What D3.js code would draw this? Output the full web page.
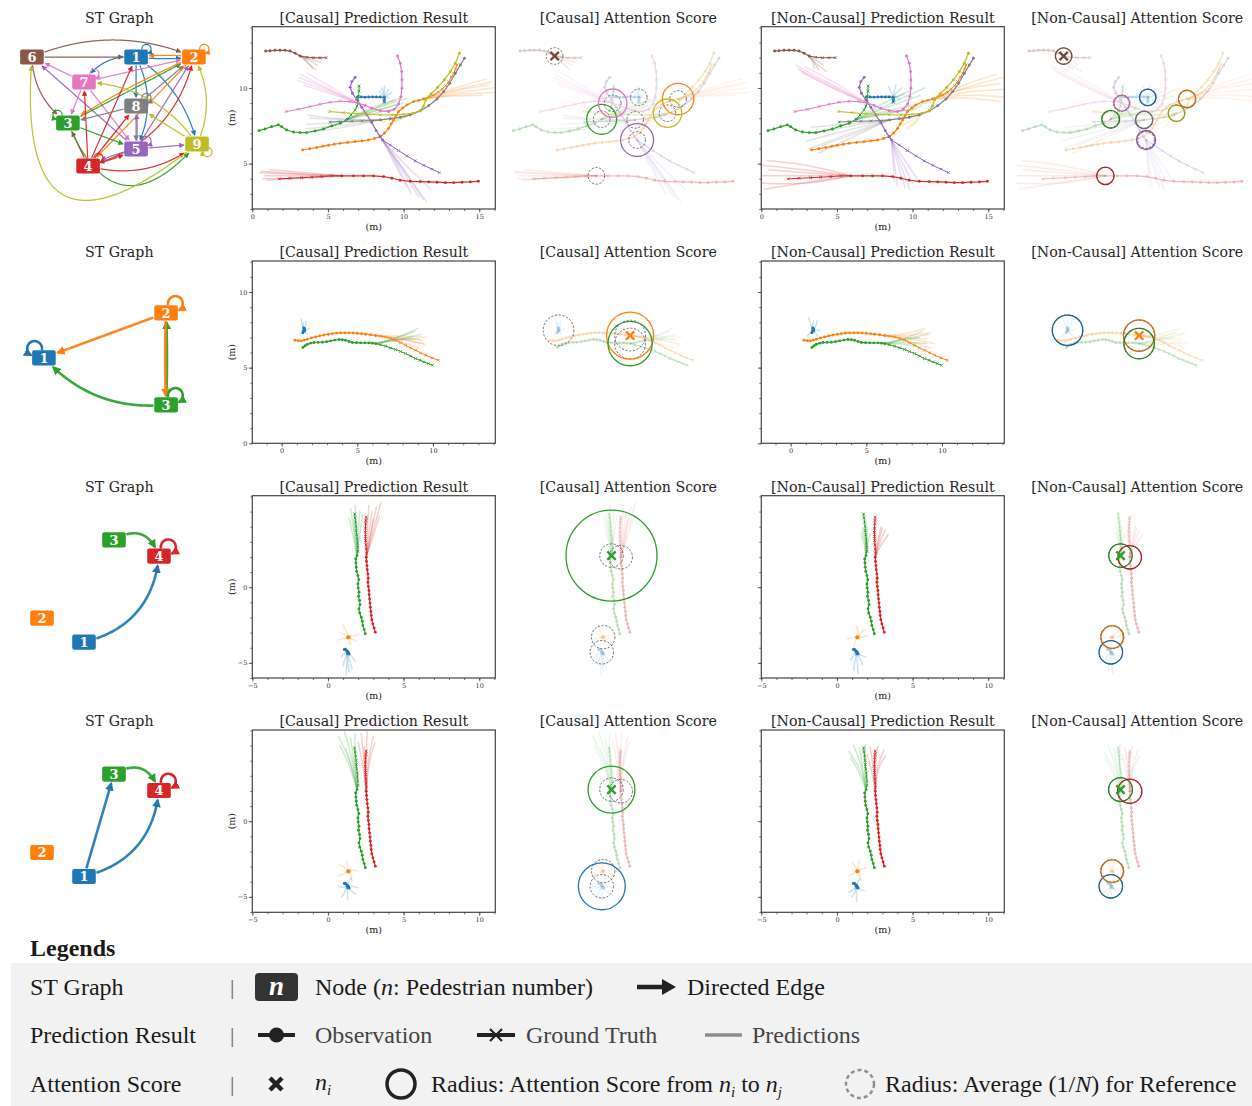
<!DOCTYPE html>
<html><head><meta charset="utf-8">
<script src="https://cdn.jsdelivr.net/npm/d3@7"></script>
<style>
html,body{margin:0;padding:0;background:#fff;}
svg{display:block;}
</style></head>
<body>
<svg id="fig" width="1252" height="1106"></svg>
<script>
// ---------------- text ----------------
const columnTitles = ["ST Graph", "[Causal] Prediction Result", "[Causal] Attention Score",
  "[Non-Causal] Prediction Result", "[Non-Causal] Attention Score"];
const unitLabel = "(m)";

// pedestrian n uses tab10 colour n-1
const pedColors = ["#1f77b4","#ff7f0e","#2ca02c","#d62728","#9467bd","#8c564b","#e377c2","#7f7f7f","#bcbd22"];

// axis start values (metres) and labelled ticks, one entry per row
const rowXStart = [0, -1.94, -5, -5];
const rowYStart = [2.0, 0, -6.0, -6.02];
const rowXTicks = [[0,5,10,15],[0,5,10],[-5,0,5,10],[-5,0,5,10]];
const rowYTicks = [[5,10],[0,5,10],[-5,0],[-5,0]];

// ---------------- row 1: nine pedestrians ----------------
const crowdPeds = [1,2,3,4,5,6,7,8,9];
const crowdObs = [
  [[6.95,9.40],[7.20,9.40],[7.45,9.39],[7.70,9.40],[7.95,9.41],[8.20,9.40],[8.45,9.40],[8.72,9.38]],
  [[3.33,5.90],[3.80,5.98],[4.26,6.06],[4.65,6.14],[5.03,6.21],[5.42,6.28],[5.81,6.34],[6.30,6.40],[6.80,6.45],[7.25,6.50],[7.68,6.56],[8.07,6.66],[8.45,6.78],[8.75,7.02],[9.01,7.33],[9.18,7.62],[9.34,7.89],[9.50,8.17],[9.67,8.44],[9.95,8.68],[10.22,8.88],[10.66,9.10],[11.00,9.18],[11.32,9.27]],
  [[0.44,7.18],[0.84,7.29],[1.28,7.44],[1.72,7.56],[1.94,7.44],[2.27,7.22],[2.72,7.09],[3.16,7.05],[3.60,7.05],[4.15,7.16],[4.70,7.29],[5.25,7.49],[5.81,7.67],[6.27,7.93]],
  [[14.94,3.83],[14.41,3.79],[13.86,3.77],[13.31,3.74],[12.76,3.74],[12.21,3.77],[11.66,3.79],[11.10,3.81],[10.44,3.83],[9.78,3.90],[9.23,4.03],[8.68,4.14],[8.01,4.19],[7.35,4.19],[6.69,4.19],[5.92,4.19]],
  [[6.80,10.70],[6.58,10.42],[6.47,10.04],[6.62,9.65],[6.91,9.21],[7.24,8.72],[7.57,8.22],[7.90,7.71],[8.19,7.18],[8.45,6.78],[8.61,6.56]],
  [[0.88,12.44],[1.17,12.46],[1.50,12.49],[1.83,12.49],[2.16,12.49],[2.49,12.44],[2.83,12.29],[3.16,12.11]],
  [[9.60,12.11],[9.78,11.63],[9.87,11.08],[9.89,10.53],[9.89,9.98],[9.82,9.43],[9.67,8.94],[9.38,8.59],[9.01,8.44],[8.45,8.50],[7.90,8.66],[7.46,8.85],[7.00,8.99]],
  [[14.02,11.96],[13.75,11.52],[13.42,10.97],[13.05,10.31],[12.65,9.76],[12.21,9.27],[11.66,8.83],[11.10,8.48],[10.44,8.22],[9.78,8.06],[9.12,7.97],[8.48,7.89]],
  [[13.69,12.29],[13.42,11.63],[13.09,11.08],[12.69,10.53],[12.25,10.04],[11.81,9.60],[11.46,9.21],[11.32,8.81],[11.10,8.50],[10.62,8.33]]
];
const crowdGt = [
  [[8.74,9.30],[8.73,9.22],[8.72,9.14],[8.72,9.05]],
  [[11.65,9.40],[11.99,9.54],[12.30,9.72],[12.54,9.91],[12.78,10.15],[12.98,10.42],[13.15,10.70],[13.31,10.97],[13.43,11.25],[13.53,11.52]],
  [[6.53,8.22],[6.80,8.55],[6.92,8.80],[6.99,9.10],[7.02,9.43],[7.05,9.80],[7.06,10.13]],
  [[5.25,4.19],[4.59,4.14],[3.93,4.10],[3.27,4.07],[2.49,4.03],[1.79,3.99]],
  [[9.12,6.23],[9.67,5.86],[10.22,5.51],[10.77,5.18],[11.32,4.89],[11.88,4.63],[12.36,4.41]],
  [[3.60,12.03],[4.04,12.00],[4.48,12.00],[4.88,12.00]],
  [[6.47,9.10],[5.81,9.12],[5.14,9.05],[4.48,8.92],[3.82,8.77],[3.05,8.59],[2.23,8.44]],
  [[7.90,7.84],[7.24,7.82],[6.58,7.80],[5.81,7.78],[5.14,7.75]],
  [[10.00,8.26],[9.23,8.22],[8.45,8.22],[7.68,8.26],[6.91,8.30],[6.03,8.37],[5.10,8.44]]
];
// predicted samples: [via x, via y, end x, end y]
const crowdPredCausal = [
  [[8.70,9.65,8.55,10.00],[8.80,9.60,9.00,9.90],[8.68,9.55,8.75,10.10],[8.90,9.50,9.20,9.70],[8.60,9.50,8.40,9.80],[8.75,9.45,9.05,9.35]],
  [[13.4,9.9,15.8,10.4],[13.5,9.7,15.9,10.0],[13.3,10.0,15.5,10.6],[13.6,9.6,16.0,9.7],[13.2,9.5,15.2,9.5],[13.5,9.85,15.6,10.2]],
  [[8.0,8.6,9.9,9.4],[8.1,8.5,10.0,9.0],[8.0,8.3,9.7,8.7],[7.8,8.7,9.4,9.2],[8.2,8.7,10.2,9.3],[7.9,8.4,9.5,8.9]],
  [[3.2,4.3,0.6,4.5],[3.3,4.2,0.8,4.2],[3.4,4.1,1.0,3.9],[3.1,4.3,0.5,4.4],[3.5,4.4,1.2,4.6],[3.2,4.0,0.7,4.0]],
  [[10.0,4.6,11.5,2.5],[9.8,4.7,11.0,2.8],[9.6,4.9,10.5,3.0],[10.2,4.8,11.8,3.3],[9.4,5.0,10.2,3.5],[10.1,4.5,11.3,2.6]],
  [[3.6,11.8,4.0,11.3],[3.7,11.85,4.3,11.5],[3.9,12.0,4.6,11.9],[3.6,11.7,4.2,11.2],[3.8,11.9,4.5,11.7]],
  [[5.1,9.9,3.2,10.9],[5.0,9.8,3.0,10.5],[5.2,9.6,3.4,10.2],[5.3,10.0,3.6,11.0],[5.0,9.9,3.1,10.7]],
  [[6.0,7.7,3.6,7.6],[6.1,7.9,3.8,8.0],[6.0,7.5,3.5,7.3],[6.2,7.4,4.0,7.1],[5.9,7.9,3.7,8.2]],
  [[9.6,8.0,8.6,7.7],[9.8,7.9,9.0,7.6],[9.7,8.2,8.8,8.1],[10.0,8.0,9.3,7.8]]
];
const crowdPredNonCausal = [
  [[8.60,9.70,8.40,10.10],[8.90,9.70,9.30,10.00],[8.70,9.50,8.90,10.20],[9.00,9.40,9.40,9.60],[8.55,9.45,8.30,9.50],[8.80,9.55,9.10,9.25]],
  [[13.6,10.1,16.0,10.7],[13.6,9.8,16.0,9.9],[13.4,10.0,15.8,10.3],[13.7,9.6,16.0,9.4],[13.3,10.2,15.5,10.9],[13.5,9.4,15.8,9.1]],
  [[8.6,9.0,10.8,10.0],[8.5,8.8,10.5,9.5],[8.7,8.6,10.9,9.0],[8.4,8.4,10.2,8.6],[8.2,9.1,9.8,9.8],[8.6,8.3,10.6,8.8]],
  [[3.0,4.6,0.0,4.9],[3.2,3.8,0.2,3.3],[3.0,4.2,0.1,4.2],[3.3,4.9,0.4,5.2],[3.1,3.6,0.0,3.7],[2.9,4.4,0.5,4.6]],
  [[9.0,5.0,9.5,3.4],[8.8,5.0,9.0,3.5],[9.3,5.1,10.0,3.7],[8.7,5.2,8.8,3.8],[9.2,4.9,9.8,3.3],[9.5,5.2,10.3,4.0]],
  [[3.5,11.7,3.8,11.2],[3.4,11.8,3.5,11.3],[3.7,11.8,4.1,11.5],[3.6,11.6,4.3,11.1]],
  [[4.7,10.2,2.3,11.5],[4.8,10.1,2.5,11.2],[4.9,9.9,2.7,11.0],[4.6,10.0,2.4,11.3],[5.0,10.3,2.9,11.4]],
  [[5.8,7.0,3.2,6.0],[5.7,7.2,3.0,6.5],[5.9,7.5,3.5,7.0],[6.1,6.8,3.8,5.7],[5.6,7.6,3.3,7.4],[6.0,6.9,4.0,6.2]],
  [[10.0,7.9,9.3,7.5],[10.1,7.7,9.6,7.3],[10.0,8.1,9.5,8.0],[10.3,7.8,9.9,7.4]]
];
const crowdAttnCausal = [0, 0.21, 0.20, 0, 0.22, 0, 0.19, 0, 0.19];
const crowdAttnNonCausal = [0.11, 0.117, 0.12, 0.117, 0.127, 0.11, 0.104, 0.116, 0.11];
const crowdFocus = 6;
// graph layout (0-100 units) and edges [from, to, bend]
const crowdNodes = [[1,56.7,18.5],[2,80.8,18.5],[3,28.3,51.5],[4,36.7,73],[5,56.7,64.5],[6,13.3,18.5],[7,35,31],[8,56.7,43],[9,82.1,62]];
const crowdEdges = [[6,1,0],[6,2,-0.21],[2,1,0.06],[1,2,0.06],[1,7,0.3],[1,8,0],[1,5,-0.25],[1,9,-0.2],
  [7,2,0],[7,6,0],[5,6,0],[7,5,0],[6,3,0.25],[3,2,0],[2,3,0.04],[8,2,0],[5,2,0],[2,4,0],[4,1,0],
  [4,2,0.3],[4,9,0.25],[4,3,0],[4,7,0],[4,8,0],[4,5,0.06],[5,4,0.06],[8,3,0],[3,5,0],[7,3,0],
  [9,7,0.25],[9,8,0],[5,9,0],[8,5,0],[3,9,0.8],[9,6,-1.15],[9,2,0.25],[5,8,0.05]];
const crowdLoops = [[1,"tr"],[2,"tr"],[3,"tl"],[4,"tr"],[5,"tr"],[7,"tr"],[8,"tr"],[9,"br"]];

// ---------------- row 2: three pedestrians ----------------
const trioPeds = [1,2,3];
const trioObs = [
  [[1.40,7.30],[1.45,7.40],[1.50,7.55],[1.46,7.62],[1.50,7.50],[1.48,7.47]],
  [[0.88,6.81],[1.10,6.78],[1.30,6.77],[1.50,6.82],[1.70,6.88],[1.97,6.96],[2.25,7.03],[2.52,7.10],[2.80,7.16],[3.08,7.21],[3.35,7.25],[3.62,7.28],[3.90,7.30],[4.18,7.30],[4.45,7.30],[4.72,7.29],[5.00,7.27],[5.28,7.24],[5.55,7.21],[5.88,7.17],[6.21,7.12]],
  [[1.41,6.33],[1.55,6.45],[1.70,6.55],[1.92,6.62],[2.14,6.66],[2.41,6.67],[2.69,6.68],[2.97,6.72],[3.24,6.77],[3.52,6.82],[3.79,6.86],[4.01,6.84],[4.23,6.81],[4.45,6.73],[4.67,6.66],[4.95,6.65],[5.22,6.64],[5.50,6.64],[5.77,6.64],[6.00,6.62],[6.21,6.59]]
];
const trioGt = [
  [[1.46,7.42],[1.50,7.52],[1.52,7.45]],
  [[6.54,7.08],[6.87,7.03],[7.20,6.93],[7.53,6.81],[7.86,6.65],[8.19,6.48],[8.52,6.31],[8.85,6.15],[9.19,5.98],[9.52,5.82],[9.94,5.65],[10.35,5.49]],
  [[6.54,6.51],[6.87,6.42],[7.20,6.31],[7.53,6.20],[7.86,6.07],[8.19,5.93],[8.52,5.77],[8.85,5.60],[9.13,5.49],[9.41,5.38],[9.69,5.27],[9.96,5.16]]
];
const trioPredCausal = [
  [[1.35,7.8,1.3,8.2],[1.6,7.7,1.6,8.05],[1.3,7.3,1.2,7.15],[1.7,7.5,1.85,7.6],[1.4,7.65,1.45,7.95],[1.55,7.35,1.7,7.2]],
  [[7.9,6.95,9.5,6.5],[7.8,7.0,9.3,6.8],[7.9,7.1,9.6,7.0],[7.7,6.8,9.0,6.3],[7.8,6.9,9.4,6.6]],
  [[7.7,7.0,9.0,7.6],[7.6,6.95,8.8,7.4],[7.8,6.9,9.2,7.2],[7.5,6.8,8.6,7.0],[7.7,6.85,9.1,6.9]]
];
const trioPredNonCausal = [
  [[1.3,7.9,1.2,8.3],[1.7,7.8,1.75,8.1],[1.25,7.25,1.1,7.1],[1.75,7.45,1.95,7.5],[1.45,7.7,1.5,8.1],[1.6,7.3,1.8,7.1]],
  [[7.8,7.1,9.3,7.3],[7.9,6.9,9.5,6.6],[7.7,7.2,8.9,7.6],[7.8,6.8,9.2,6.3],[7.6,7.0,9.0,6.9]],
  [[7.5,6.9,8.7,7.4],[7.4,6.8,8.5,7.0],[7.6,6.7,9.0,6.6],[7.5,6.9,9.1,7.2],[7.3,6.6,8.4,6.4]]
];
const trioAttnCausal = [0, 0.51, 0.48];
const trioAttnNonCausal = [0.33, 0.34, 0.33];
const trioFocus = 2;
const trioNodes = [[1,18.3,51.75],[2,69.2,29.25],[3,69.2,75.25]];
const trioEdges = [[2,1,0],[3,1,-0.25],[3,2,0.02],[2,3,0.02]];
const trioLoops = [[1,"tl"],[2,"tr"],[3,"tr"]];

// ---------------- rows 3 and 4: corridor scene ----------------
const corridorPeds = [1,2,3,4];
const corridorObs = [
  [[1.08,-4.12],[1.15,-4.10],[1.22,-4.18],[1.30,-4.25],[1.35,-4.35],[1.40,-4.42],[1.33,-4.33],[1.28,-4.30]],
  [[1.30,-3.32],[1.34,-3.28],[1.38,-3.30],[1.36,-3.34],[1.37,-3.30]],
  [[2.47,-3.08],[2.40,-2.80],[2.31,-2.53],[2.27,-2.25],[2.20,-1.98],[2.10,-1.70],[2.05,-1.43],[2.12,-1.15],[2.09,-0.88],[2.02,-0.60],[2.05,-0.33],[2.00,-0.05],[1.98,0.22],[2.04,0.50],[1.98,0.77],[1.90,1.05],[1.87,1.32],[1.85,1.60],[1.83,1.87],[1.92,2.09]],
  [[3.13,-2.97],[3.05,-2.70],[2.97,-2.42],[2.90,-2.15],[2.86,-1.87],[2.84,-1.60],[2.80,-1.32],[2.78,-1.05],[2.75,-0.77],[2.72,-0.50],[2.71,-0.22],[2.67,0.05],[2.64,0.33],[2.66,0.60],[2.64,0.88],[2.60,1.15],[2.58,1.43],[2.55,1.70],[2.53,1.98]]
];
const corridorGt = [
  [[1.30,-4.36],[1.34,-4.40]],
  [[1.40,-3.28],[1.38,-3.33]],
  [[1.98,2.37],[1.98,2.64],[1.95,2.92],[1.94,3.19],[1.90,3.46],[1.87,3.74],[1.86,4.02],[1.83,4.30],[1.79,4.58],[1.76,4.85]],
  [[2.55,2.25],[2.53,2.53],[2.51,2.80],[2.49,3.08],[2.48,3.35],[2.47,3.63],[2.48,3.91],[2.49,4.19],[2.51,4.41],[2.53,4.63]]
];
const corridorPredCausal3 = [
  [[1.3,-4.9,1.4,-5.6],[1.1,-4.8,1.0,-5.2],[1.6,-4.6,1.8,-4.9],[1.25,-5.0,1.2,-5.8],[1.45,-4.9,1.6,-5.4],[1.0,-4.4,0.9,-4.6]],
  [[1.0,-3.4,0.6,-3.5],[1.2,-2.9,1.0,-2.5],[1.7,-3.2,2.1,-3.1],[1.4,-3.6,1.5,-3.8],[1.05,-3.1,0.8,-3.0],[1.65,-3.45,1.9,-3.6]],
  [[1.7,3.7,1.5,5.2],[1.85,3.8,1.8,5.4],[2.0,3.6,2.1,5.0],[1.65,3.4,1.4,4.6],[2.1,3.5,2.3,4.8],[1.8,3.3,1.7,4.4]],
  [[3.0,3.8,3.5,5.6],[2.85,3.7,3.2,5.3],[2.7,3.5,2.9,5.0],[3.0,3.4,3.4,4.7],[2.6,3.7,2.7,5.4],[2.8,3.3,3.0,4.5]]
];
const corridorPredNonCausal3 = [
  [[1.2,-4.8,1.1,-5.5],[1.5,-4.7,1.7,-5.1],[1.35,-4.9,1.4,-5.7],[1.1,-4.5,0.9,-4.8],[1.55,-4.5,1.9,-4.6]],
  [[1.1,-3.3,0.7,-3.4],[1.4,-2.9,1.3,-2.6],[1.7,-3.3,2.0,-3.2],[1.2,-3.6,1.1,-3.9],[1.6,-3.0,1.8,-2.8]],
  [[1.85,3.0,1.7,3.9],[1.95,3.1,2.0,4.0],[1.8,2.9,1.6,3.6],[2.0,2.8,2.2,3.5],[1.9,3.0,1.9,3.8]],
  [[2.7,3.0,2.9,4.0],[2.8,2.9,3.2,3.8],[2.6,3.1,2.5,4.1],[2.9,2.8,3.4,3.5],[2.75,3.0,3.0,3.9]]
];
const corridorPredCausal4 = [
  [[1.0,-4.4,0.7,-4.3],[1.5,-4.6,1.8,-4.8],[1.3,-4.8,1.3,-5.2],[1.4,-3.9,1.6,-3.7],[1.1,-4.7,0.9,-5.0],[1.6,-4.3,2.0,-4.4]],
  [[1.3,-2.9,1.2,-2.6],[1.7,-3.2,2.0,-3.3],[1.0,-3.5,0.7,-3.6],[1.5,-3.7,1.6,-4.0],[1.1,-3.0,0.8,-2.9]],
  [[1.5,4.0,0.7,5.6],[1.6,4.2,1.1,5.9],[1.7,4.0,1.5,5.5],[1.4,3.8,0.8,5.0],[1.75,4.3,1.8,5.8],[1.55,3.7,1.2,4.8]],
  [[2.4,4.0,2.2,5.8],[2.5,4.1,2.6,5.9],[2.6,3.9,3.0,5.6],[2.3,3.8,2.0,5.2],[2.7,4.0,3.1,5.2],[2.45,3.7,2.4,4.9]]
];
const corridorPredNonCausal4 = [
  [[1.1,-4.5,0.8,-4.7],[1.5,-4.5,1.8,-4.6],[1.3,-4.8,1.3,-5.3],[1.4,-4.0,1.5,-3.8],[1.2,-4.7,1.0,-5.0]],
  [[1.2,-3.0,1.0,-2.7],[1.6,-3.2,1.9,-3.1],[1.1,-3.5,0.8,-3.6],[1.5,-3.6,1.6,-3.9],[1.4,-2.9,1.5,-2.6]],
  [[1.5,3.6,0.8,4.6],[1.6,3.8,1.1,5.0],[1.7,3.5,1.5,4.8],[1.4,3.4,0.9,4.2],[1.8,3.7,1.9,5.1]],
  [[2.4,3.6,2.2,4.9],[2.5,3.7,2.7,5.0],[2.6,3.5,3.1,4.7],[2.3,3.4,2.0,4.4],[2.7,3.6,3.2,4.3]]
];
const corridorAttnCausal3 = [0, 0, 0.97, 0];
const corridorAttnNonCausal3 = [0.25, 0.24, 0.25, 0.25];
const corridorAttnCausal4 = [0.50, 0, 0.50, 0];
const corridorAttnNonCausal4 = [0.25, 0.24, 0.255, 0.26];
const corridorFocus = 3;
const corridorNodes = [[1,35,76.6],[2,17.5,64.6],[3,47.5,25.4],[4,66.25,33.6]];
const corridorEdges3 = [[3,4,-0.6],[1,4,0.35]];
const corridorEdges4 = [[1,3,0],[3,4,-0.6],[1,4,0.35]];
const corridorLoops = [[4,"tr"]];

// ---------------- layout ----------------
const colLeft = [-2.2, 252.3, 506.8, 761.3, 1015.8];
const rowTop = [26.7, 261.0, 495.7, 730.0];
const panelW = 243, panelH = 182.3, pxPerM = 15.13;
const titleFont = "'DejaVu Serif', serif";
const legendFont = "'Liberation Serif', 'Times New Roman', serif";

const svg = d3.select("#fig");
const defs = svg.append("defs");

function panelScales(row, col) {
  const left = colLeft[col], top = rowTop[row];
  const x = d3.scaleLinear([rowXStart[row], rowXStart[row] + panelW / pxPerM], [left, left + panelW]);
  const y = d3.scaleLinear([rowYStart[row], rowYStart[row] + panelH / pxPerM], [top + panelH, top]);
  return {x, y, left, top};
}

// column titles
rowTop.forEach(top => {
  columnTitles.forEach((t, c) => {
    svg.append("text").attr("x", colLeft[c] + panelW / 2).attr("y", top - 4)
      .attr("text-anchor", "middle").attr("font-family", titleFont).attr("font-size", 14.2)
      .attr("fill", "#262626").text(t);
  });
});

// ---------------- ST graph ----------------
function arrowMarker(color, big) {
  const id = "ah" + color.slice(1) + (big ? "b" : "s");
  if (defs.select("#" + id).empty()) {
    defs.append("marker").attr("id", id).attr("viewBox", "0 0 10 10")
      .attr("refX", 8).attr("refY", 5)
      .attr("markerWidth", big ? 3.4 : 4.4).attr("markerHeight", big ? 3.4 : 4.4)
      .attr("orient", "auto")
      .append("path").attr("d", "M0,0L10,5L0,10z").attr("fill", color);
  }
  return `url(#${id})`;
}

function drawGraph(row, nodes, edges, loops, big) {
  const off = rowTop[row] - rowTop[0];
  const gx = d3.scaleLinear([0, 100], [0, 240]);
  const gy = d3.scaleLinear([0, 100], [off + 20, off + 220]);
  const pos = new Map(nodes.map(n => [n[0], [gx(n[1]), gy(n[2])]]));
  const hw = 11.8, hh = 7.6;
  const sw = big ? 2.6 : 1.25;
  const g = svg.append("g");
  const inside = (p, c, pad) => Math.abs(p[0] - c[0]) <= hw + pad && Math.abs(p[1] - c[1]) <= hh + pad;
  const curve = d3.line();
  edges.forEach(([s, t, bend]) => {
    const p0 = pos.get(s), p1 = pos.get(t);
    const dx = p1[0] - p0[0], dy = p1[1] - p0[1];
    const c = [(p0[0] + p1[0]) / 2 - dy * bend, (p0[1] + p1[1]) / 2 + dx * bend];
    const q = u => [(1-u)*(1-u)*p0[0] + 2*u*(1-u)*c[0] + u*u*p1[0],
                    (1-u)*(1-u)*p0[1] + 2*u*(1-u)*c[1] + u*u*p1[1]];
    const pts = [];
    for (let k = 0; k <= 240; k++) {
      const p = q(k / 240);
      if (!inside(p, p0, 0.5) && !inside(p, p1, 1.5)) pts.push(p);
    }
    const col = pedColors[s - 1];
    g.append("path").attr("d", curve(pts)).attr("fill", "none").attr("stroke", col)
      .attr("stroke-width", sw).attr("stroke-opacity", 0.92).attr("marker-end", arrowMarker(col, big));
  });
  loops.forEach(([id, side]) => {
    const [cx, cy] = pos.get(id);
    const col = pedColors[id - 1];
    let S, E, sweep, r;
    if (big) {
      r = 7.5;
      if (side === "tl") { S = [cx - 2, cy - hh]; E = [cx - hw - 1, cy - hh + 5]; sweep = 0; }
      else { S = [cx + 2, cy - hh]; E = [cx + hw + 1, cy - hh + 5]; sweep = 1; }
    } else {
      r = 4.6;
      if (side === "tl") { S = [cx - hw + 6, cy - hh]; E = [cx - hw, cy - hh + 4]; sweep = 0; }
      else if (side === "br") { S = [cx + hw, cy + hh - 4]; E = [cx + hw - 6, cy + hh]; sweep = 1; }
      else { S = [cx + hw - 6, cy - hh]; E = [cx + hw, cy - hh + 4]; sweep = 1; }
    }
    g.append("path").attr("d", `M${S[0]},${S[1]}A${r},${r} 0 1 ${sweep} ${E[0]},${E[1]}`)
      .attr("fill", "none").attr("stroke", col).attr("stroke-width", sw)
      .attr("marker-end", arrowMarker(col, big));
  });
  nodes.forEach(([id]) => {
    const [cx, cy] = pos.get(id);
    g.append("rect").attr("x", cx - hw).attr("y", cy - hh).attr("width", 2 * hw).attr("height", 2 * hh)
      .attr("rx", 2).attr("fill", pedColors[id - 1]);
    g.append("text").attr("x", cx).attr("y", cy).attr("dy", "0.37em").attr("text-anchor", "middle")
      .attr("font-family", titleFont).attr("font-weight", "bold").attr("font-size", 13)
      .attr("fill", "#fff").text(id);
  });
}

// ---------------- trajectories, predictions, attention ----------------
function drawScene(row, col, peds, obs, gt, preds, attn) {
  const sc = panelScales(row, col);
  const isAttn = !!attn;
  const g = svg.append("g");
  if (!isAttn) {
    const cid = `clip${row}_${col}`;
    defs.append("clipPath").attr("id", cid).append("rect")
      .attr("x", sc.left).attr("y", sc.top).attr("width", panelW).attr("height", panelH);
    g.attr("clip-path", `url(#${cid})`);
  }
  const ln = d3.line().x(d => sc.x(d[0])).y(d => sc.y(d[1]));
  const lnS = d3.line().x(d => sc.x(d[0])).y(d => sc.y(d[1])).curve(d3.curveBasis);
  const predG = g.append("g").attr("opacity", isAttn ? 0.4 : 1);
  peds.forEach((id, i) => {
    const color = pedColors[id - 1];
    const cur = obs[i][obs[i].length - 1];
    preds[i].forEach(s => {
      predG.append("path").attr("d", lnS([cur, [s[0], s[1]], [s[2], s[3]]]))
        .attr("fill", "none").attr("stroke", color).attr("stroke-width", 1.5)
        .attr("stroke-linecap", "round").attr("stroke-opacity", 0.22);
    });
  });
  const trG = g.append("g").attr("opacity", isAttn ? 0.32 : 1);
  peds.forEach((id, i) => {
    const color = pedColors[id - 1];
    const cur = obs[i][obs[i].length - 1];
    trG.append("path").attr("d", ln(obs[i])).attr("fill", "none").attr("stroke", color).attr("stroke-width", 1.2);
    trG.append("path").attr("d", ln([cur, ...gt[i]])).attr("fill", "none").attr("stroke", color).attr("stroke-width", 1.0);
    obs[i].forEach(p => trG.append("circle").attr("cx", sc.x(p[0])).attr("cy", sc.y(p[1])).attr("r", 1.45).attr("fill", color));
    gt[i].forEach(p => {
      const X = sc.x(p[0]), Y = sc.y(p[1]), a = 1.35;
      trG.append("path").attr("d", `M${X-a},${Y-a}L${X+a},${Y+a}M${X-a},${Y+a}L${X+a},${Y-a}`)
        .attr("stroke", color).attr("stroke-width", 0.9);
    });
  });
  if (isAttn) {
    const N = peds.length;
    const rPx = v => v * attn.radius * pxPerM;
    peds.forEach((id, i) => {
      const cur = obs[i][obs[i].length - 1];
      g.append("circle").attr("cx", sc.x(cur[0])).attr("cy", sc.y(cur[1])).attr("r", rPx(1 / N))
        .attr("fill", "none").attr("stroke", "#555").attr("stroke-width", 0.85).attr("stroke-dasharray", "2.2,1.6");
    });
    peds.forEach((id, i) => {
      const v = attn.scores[i];
      if (v <= 0) return;
      const cur = obs[i][obs[i].length - 1];
      let color = d3.color(pedColors[id - 1]);
      if (attn.dark) color = color.darker(0.55);
      g.append("circle").attr("cx", sc.x(cur[0])).attr("cy", sc.y(cur[1])).attr("r", rPx(v))
        .attr("fill", "none").attr("stroke", color.formatHex()).attr("stroke-width", 1.3);
    });
    const fi = peds.indexOf(attn.focus);
    const f = obs[fi][obs[fi].length - 1];
    const X = sc.x(f[0]), Y = sc.y(f[1]), a = 4.2;
    let fc = d3.color(pedColors[attn.focus - 1]);
    if (attn.focus === 6) fc = fc.darker(0.5);
    g.append("path").attr("d", `M${X-a},${Y-a}L${X+a},${Y+a}M${X-a},${Y+a}L${X+a},${Y-a}`)
      .attr("stroke", fc.formatHex()).attr("stroke-width", 2.4);
  } else {
    drawAxes(row, col, sc);
  }
}

function drawAxes(row, col, sc) {
  const g = svg.append("g");
  const [x0, x1] = sc.x.domain(), [y0, y1] = sc.y.domain();
  const styleAxis = sel => {
    sel.select(".domain").remove();
    sel.selectAll("line").attr("stroke", "#333").attr("stroke-width", 0.7);
    sel.selectAll("text").attr("font-family", titleFont).attr("font-size", 6.5).attr("fill", "#333");
  };
  const minorX = d3.range(Math.ceil(x0), Math.floor(x1) + 1);
  const minorY = d3.range(Math.ceil(y0), Math.floor(y1) + 1);
  g.append("g").attr("transform", `translate(0,${sc.top + panelH})`)
    .call(d3.axisBottom(sc.x).tickValues(minorX).tickSize(2).tickFormat("")).call(styleAxis);
  g.append("g").attr("transform", `translate(0,${sc.top + panelH})`)
    .call(d3.axisBottom(sc.x).tickValues(rowXTicks[row]).tickSize(3.5).tickPadding(1.5).tickFormat(d3.format("d"))).call(styleAxis);
  g.append("g").attr("transform", `translate(${sc.left},0)`)
    .call(d3.axisLeft(sc.y).tickValues(minorY).tickSize(2).tickFormat("")).call(styleAxis);
  g.append("g").attr("transform", `translate(${sc.left},0)`)
    .call(d3.axisLeft(sc.y).tickValues(rowYTicks[row]).tickSize(3.5).tickPadding(1.5)
      .tickFormat(col === 1 ? d3.format("d") : "")).call(styleAxis);
  g.append("rect").attr("x", sc.left).attr("y", sc.top).attr("width", panelW).attr("height", panelH)
    .attr("fill", "none").attr("stroke", "#444").attr("stroke-width", 1.2);
  g.append("text").attr("x", sc.left + panelW / 2).attr("y", sc.top + panelH + 20.5)
    .attr("text-anchor", "middle").attr("font-family", titleFont).attr("font-size", 9.5).attr("fill", "#222").text(unitLabel);
  if (col === 1) {
    g.append("text").attr("transform", `translate(${sc.left - 17},${sc.top + panelH / 2}) rotate(-90)`)
      .attr("text-anchor", "middle").attr("font-family", titleFont).attr("font-size", 9.5).attr("fill", "#222").text(unitLabel);
  }
}

// ---------------- assemble rows ----------------
const rows = [
  {peds: crowdPeds, obs: crowdObs, gt: crowdGt, pc: crowdPredCausal, pn: crowdPredNonCausal,
   ac: crowdAttnCausal, an: crowdAttnNonCausal, focus: crowdFocus, radius: 4.95,
   nodes: crowdNodes, edges: crowdEdges, loops: crowdLoops, big: false},
  {peds: trioPeds, obs: trioObs, gt: trioGt, pc: trioPredCausal, pn: trioPredNonCausal,
   ac: trioAttnCausal, an: trioAttnNonCausal, focus: trioFocus, radius: 3.05,
   nodes: trioNodes, edges: trioEdges, loops: trioLoops, big: true},
  {peds: corridorPeds, obs: corridorObs, gt: corridorGt, pc: corridorPredCausal3, pn: corridorPredNonCausal3,
   ac: corridorAttnCausal3, an: corridorAttnNonCausal3, focus: corridorFocus, radius: 3.1,
   nodes: corridorNodes, edges: corridorEdges3, loops: corridorLoops, big: true},
  {peds: corridorPeds, obs: corridorObs, gt: corridorGt, pc: corridorPredCausal4, pn: corridorPredNonCausal4,
   ac: corridorAttnCausal4, an: corridorAttnNonCausal4, focus: corridorFocus, radius: 3.1,
   nodes: corridorNodes, edges: corridorEdges4, loops: corridorLoops, big: true}
];

rows.forEach((r, i) => {
  drawGraph(i, r.nodes, r.edges, r.loops, r.big);
  drawScene(i, 1, r.peds, r.obs, r.gt, r.pc, null);
  drawScene(i, 2, r.peds, r.obs, r.gt, r.pc, {scores: r.ac, focus: r.focus, radius: r.radius, dark: false});
  drawScene(i, 3, r.peds, r.obs, r.gt, r.pn, null);
  drawScene(i, 4, r.peds, r.obs, r.gt, r.pn, {scores: r.an, focus: r.focus, radius: r.radius, dark: true});
});

// ---------------- legend ----------------
const legendSize = 24;
const L = svg.append("g").attr("font-family", legendFont).attr("fill", "#1a1a1a");
L.append("text").attr("x", 30).attr("y", 956).attr("font-weight", "bold").attr("font-size", legendSize).text("Legends");
L.append("rect").attr("x", 11).attr("y", 963).attr("width", 1241).attr("height", 143).attr("fill", "#f2f2f2");
const legendY = [987, 1035, 1084];
const legendLabels = ["ST Graph", "Prediction Result", "Attention Score"];
legendLabels.forEach((t, i) => {
  L.append("text").attr("x", 30).attr("y", legendY[i] + 8).attr("font-size", legendSize).text(t);
  L.append("text").attr("x", 230).attr("y", legendY[i] + 7).attr("font-size", 22).attr("fill", "#666").text("|");
});
function rich(x, y, parts, color) {
  const t = L.append("text").attr("x", x).attr("y", y).attr("font-size", legendSize).attr("fill", color || "#1a1a1a");
  parts.forEach(p => {
    const s = t.append("tspan").text(p[0]);
    if (p[1]) s.attr("font-style", "italic");
    if (p[2]) s.attr("font-size", 15).attr("dy", 5);
    if (p[3]) s.attr("dy", -5);
  });
}
// node
L.append("rect").attr("x", 255).attr("y", 973).attr("width", 43).attr("height", 28).attr("rx", 4).attr("fill", "#333");
L.append("text").attr("x", 276.5).attr("y", 995).attr("text-anchor", "middle").attr("font-style", "italic")
  .attr("font-weight", "bold").attr("font-size", 27).attr("fill", "#fff").text("n");
rich(315, 995, [["Node ("], ["n", true], [": Pedestrian number)"]]);
// directed edge
L.append("line").attr("x1", 637).attr("x2", 664).attr("y1", 987).attr("y2", 987).attr("stroke", "#222").attr("stroke-width", 4.5);
L.append("path").attr("d", "M662,979L676,987L662,995Z").attr("fill", "#222");
rich(687, 995, [["Directed Edge"]]);
// observation
L.append("line").attr("x1", 258).attr("x2", 295).attr("y1", 1035).attr("y2", 1035).attr("stroke", "#222").attr("stroke-width", 4);
L.append("circle").attr("cx", 276.5).attr("cy", 1035).attr("r", 7.5).attr("fill", "#222");
rich(315, 1043, [["Observation"]], "#444");
// ground truth
L.append("line").attr("x1", 477).attr("x2", 515).attr("y1", 1035).attr("y2", 1035).attr("stroke", "#222").attr("stroke-width", 4);
L.append("path").attr("d", "M490,1029L502,1041M490,1041L502,1029").attr("stroke", "#222").attr("stroke-width", 2.2);
rich(526, 1043, [["Ground Truth"]], "#444");
// predictions
L.append("line").attr("x1", 705).attr("x2", 742).attr("y1", 1035).attr("y2", 1035).attr("stroke", "#8c8c8c").attr("stroke-width", 3.5);
rich(752, 1043, [["Predictions"]], "#444");
// attention
L.append("path").attr("d", "M270,1078L282,1090M270,1090L282,1078").attr("stroke", "#222").attr("stroke-width", 4.5);
rich(315, 1090, [["n", true], ["i", true, true]]);
L.append("circle").attr("cx", 401).attr("cy", 1084).attr("r", 14).attr("fill", "none").attr("stroke", "#222").attr("stroke-width", 3.5);
rich(431, 1092, [["Radius: Attention Score from "], ["n", true], ["i", true, true], [" to ", false, false, true], ["n", true], ["j", true, true]]);
L.append("circle").attr("cx", 860).attr("cy", 1084).attr("r", 14).attr("fill", "none").attr("stroke", "#8f8f8f")
  .attr("stroke-width", 2.5).attr("stroke-dasharray", "4,3");
rich(885, 1092, [["Radius: Average (1/"], ["N", true], [") for Reference"]]);
</script>
</body></html>
